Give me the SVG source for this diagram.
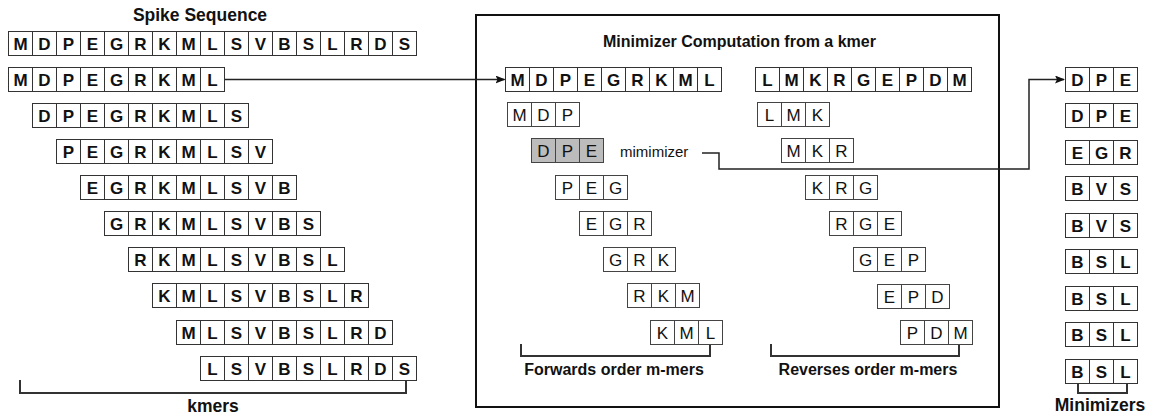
<svg xmlns="http://www.w3.org/2000/svg" width="1150" height="415" viewBox="0 0 1150 415">
<defs>
<style>
.c rect{fill:#fff;stroke:#333;stroke-width:1}
.c path{fill:none;stroke:#333;stroke-width:1}
.c text{font-family:"Liberation Sans",Arial,sans-serif;font-size:17px;font-weight:bold;text-anchor:middle;fill:#111}
.m rect{fill:#fff;stroke:#444;stroke-width:1}
.m path{fill:none;stroke:#444;stroke-width:1}
.m text{font-family:"Liberation Sans",Arial,sans-serif;font-size:17px;text-anchor:middle;fill:#111}
.hl rect{fill:#bcbcbc}
.lbl{font-family:"Liberation Sans",Arial,sans-serif;font-weight:bold;fill:#111}
.con{fill:none;stroke:#222;stroke-width:1.5}
.br{fill:none;stroke:#333;stroke-width:2}
</style>
<marker id="ah" markerWidth="10" markerHeight="8" refX="9" refY="4" orient="auto" markerUnits="userSpaceOnUse">
<path d="M0,0 L10,4 L0,8 L2,4 Z" fill="#111"/>
</marker>
</defs>
<rect width="1150" height="415" fill="#fff"/>

<text class="lbl" x="200" y="21" font-size="17.5" text-anchor="middle">Spike Sequence</text>

<g id="spike" class="c" transform="translate(8.5,31.5)"><rect width="408" height="24"/><path d="M24 0v24M48 0v24M72 0v24M96 0v24M120 0v24M144 0v24M168 0v24M192 0v24M216 0v24M240 0v24M264 0v24M288 0v24M312 0v24M336 0v24M360 0v24M384 0v24"/><text x="12 36 60 84 108 132 156 180 204 228 252 276 300 324 348 372 396" y="18">MDPEGRKMLSVBSLRDS</text></g>

<g id="kmer1" class="c" transform="translate(8.5,67.5)"><rect width="216" height="24"/><path d="M24 0v24M48 0v24M72 0v24M96 0v24M120 0v24M144 0v24M168 0v24M192 0v24"/><text x="12 36 60 84 108 132 156 180 204" y="18">MDPEGRKML</text></g>
<g id="kmer2" class="c" transform="translate(32.5,103.5)"><rect width="216" height="24"/><path d="M24 0v24M48 0v24M72 0v24M96 0v24M120 0v24M144 0v24M168 0v24M192 0v24"/><text x="12 36 60 84 108 132 156 180 204" y="18">DPEGRKMLS</text></g>
<g id="kmer3" class="c" transform="translate(56.5,139.5)"><rect width="216" height="24"/><path d="M24 0v24M48 0v24M72 0v24M96 0v24M120 0v24M144 0v24M168 0v24M192 0v24"/><text x="12 36 60 84 108 132 156 180 204" y="18">PEGRKMLSV</text></g>
<g id="kmer4" class="c" transform="translate(80.5,175.5)"><rect width="216" height="24"/><path d="M24 0v24M48 0v24M72 0v24M96 0v24M120 0v24M144 0v24M168 0v24M192 0v24"/><text x="12 36 60 84 108 132 156 180 204" y="18">EGRKMLSVB</text></g>
<g id="kmer5" class="c" transform="translate(104.5,211.5)"><rect width="216" height="24"/><path d="M24 0v24M48 0v24M72 0v24M96 0v24M120 0v24M144 0v24M168 0v24M192 0v24"/><text x="12 36 60 84 108 132 156 180 204" y="18">GRKMLSVBS</text></g>
<g id="kmer6" class="c" transform="translate(128.5,247.5)"><rect width="216" height="24"/><path d="M24 0v24M48 0v24M72 0v24M96 0v24M120 0v24M144 0v24M168 0v24M192 0v24"/><text x="12 36 60 84 108 132 156 180 204" y="18">RKMLSVBSL</text></g>
<g id="kmer7" class="c" transform="translate(152.5,283.5)"><rect width="216" height="24"/><path d="M24 0v24M48 0v24M72 0v24M96 0v24M120 0v24M144 0v24M168 0v24M192 0v24"/><text x="12 36 60 84 108 132 156 180 204" y="18">KMLSVBSLR</text></g>
<g id="kmer8" class="c" transform="translate(176.5,320.5)"><rect width="216" height="24"/><path d="M24 0v24M48 0v24M72 0v24M96 0v24M120 0v24M144 0v24M168 0v24M192 0v24"/><text x="12 36 60 84 108 132 156 180 204" y="18">MLSVBSLRD</text></g>
<g id="kmer9" class="c" transform="translate(200.5,356.5)"><rect width="216" height="24"/><path d="M24 0v24M48 0v24M72 0v24M96 0v24M120 0v24M144 0v24M168 0v24M192 0v24"/><text x="12 36 60 84 108 132 156 180 204" y="18">LSVBSLRDS</text></g>

<text class="lbl" x="213" y="412" font-size="17.5" text-anchor="middle">kmers</text>

<g id="minimizer-box">
<rect x="476" y="15" width="523" height="392" fill="none" stroke="#111" stroke-width="2"/>
<text class="lbl" x="739.5" y="47" font-size="16" text-anchor="middle">Minimizer Computation from a kmer</text>
</g>

<g id="kmer-fwd" class="c" transform="translate(505.5,67.5)"><rect width="216" height="24"/><path d="M24 0v24M48 0v24M72 0v24M96 0v24M120 0v24M144 0v24M168 0v24M192 0v24"/><text x="12 36 60 84 108 132 156 180 204" y="18">MDPEGRKML</text></g>
<g id="kmer-rev" class="c" transform="translate(755.5,67.5)"><rect width="216" height="24"/><path d="M24 0v24M48 0v24M72 0v24M96 0v24M120 0v24M144 0v24M168 0v24M192 0v24"/><text x="12 36 60 84 108 132 156 180 204" y="18">LMKRGEPDM</text></g>

<g id="fwd1" class="m" transform="translate(507.5,102.5)"><rect width="72" height="24"/><path d="M24 0v24M48 0v24"/><text x="12 36 60" y="18">MDP</text></g>
<g id="fwd2" class="m hl" transform="translate(531.5,138.5)"><rect width="72" height="24"/><path d="M24 0v24M48 0v24"/><text x="12 36 60" y="18">DPE</text></g>
<g id="fwd3" class="m" transform="translate(555.5,175.5)"><rect width="72" height="24"/><path d="M24 0v24M48 0v24"/><text x="12 36 60" y="18">PEG</text></g>
<g id="fwd4" class="m" transform="translate(579.5,211.5)"><rect width="72" height="24"/><path d="M24 0v24M48 0v24"/><text x="12 36 60" y="18">EGR</text></g>
<g id="fwd5" class="m" transform="translate(603.5,247.5)"><rect width="72" height="24"/><path d="M24 0v24M48 0v24"/><text x="12 36 60" y="18">GRK</text></g>
<g id="fwd6" class="m" transform="translate(627.5,283.5)"><rect width="72" height="24"/><path d="M24 0v24M48 0v24"/><text x="12 36 60" y="18">RKM</text></g>
<g id="fwd7" class="m" transform="translate(650.5,320.5)"><rect width="72" height="24"/><path d="M24 0v24M48 0v24"/><text x="12 36 60" y="18">KML</text></g>

<g id="rev1" class="m" transform="translate(757.5,102.5)"><rect width="72" height="24"/><path d="M24 0v24M48 0v24"/><text x="12 36 60" y="18">LMK</text></g>
<g id="rev2" class="m" transform="translate(781.5,138.5)"><rect width="72" height="24"/><path d="M24 0v24M48 0v24"/><text x="12 36 60" y="18">MKR</text></g>
<g id="rev3" class="m" transform="translate(805.5,175.5)"><rect width="72" height="24"/><path d="M24 0v24M48 0v24"/><text x="12 36 60" y="18">KRG</text></g>
<g id="rev4" class="m" transform="translate(829.5,211.5)"><rect width="72" height="24"/><path d="M24 0v24M48 0v24"/><text x="12 36 60" y="18">RGE</text></g>
<g id="rev5" class="m" transform="translate(853.5,247.5)"><rect width="72" height="24"/><path d="M24 0v24M48 0v24"/><text x="12 36 60" y="18">GEP</text></g>
<g id="rev6" class="m" transform="translate(877.5,284.5)"><rect width="72" height="24"/><path d="M24 0v24M48 0v24"/><text x="12 36 60" y="18">EPD</text></g>
<g id="rev7" class="m" transform="translate(900.5,320.5)"><rect width="72" height="24"/><path d="M24 0v24M48 0v24"/><text x="12 36 60" y="18">PDM</text></g>

<text x="620" y="157" font-family="Liberation Sans, Arial, sans-serif" font-size="15" fill="#111">mimimizer</text>

<text class="lbl" x="614" y="375" font-size="16" text-anchor="middle">Forwards order m-mers</text>
<text class="lbl" x="868" y="375" font-size="16" text-anchor="middle">Reverses order m-mers</text>

<g id="min1" class="c" transform="translate(1065.5,67.5)"><rect width="72" height="24"/><path d="M24 0v24M48 0v24"/><text x="12 36 60" y="18">DPE</text></g>
<g id="min2" class="c" transform="translate(1065.5,103.5)"><rect width="72" height="24"/><path d="M24 0v24M48 0v24"/><text x="12 36 60" y="18">DPE</text></g>
<g id="min3" class="c" transform="translate(1065.5,140.5)"><rect width="72" height="24"/><path d="M24 0v24M48 0v24"/><text x="12 36 60" y="18">EGR</text></g>
<g id="min4" class="c" transform="translate(1065.5,176.5)"><rect width="72" height="24"/><path d="M24 0v24M48 0v24"/><text x="12 36 60" y="18">BVS</text></g>
<g id="min5" class="c" transform="translate(1065.5,213.5)"><rect width="72" height="24"/><path d="M24 0v24M48 0v24"/><text x="12 36 60" y="18">BVS</text></g>
<g id="min6" class="c" transform="translate(1065.5,249.5)"><rect width="72" height="24"/><path d="M24 0v24M48 0v24"/><text x="12 36 60" y="18">BSL</text></g>
<g id="min7" class="c" transform="translate(1065.5,286.5)"><rect width="72" height="24"/><path d="M24 0v24M48 0v24"/><text x="12 36 60" y="18">BSL</text></g>
<g id="min8" class="c" transform="translate(1065.5,322.5)"><rect width="72" height="24"/><path d="M24 0v24M48 0v24"/><text x="12 36 60" y="18">BSL</text></g>
<g id="min9" class="c" transform="translate(1065.5,359.5)"><rect width="72" height="24"/><path d="M24 0v24M48 0v24"/><text x="12 36 60" y="18">BSL</text></g>

<text class="lbl" x="1100" y="411" font-size="17.5" text-anchor="middle">Minimizers</text>

<g id="connectors">
<path class="con" d="M225,79.5 H504.5" marker-end="url(#ah)"/>
<path class="con" d="M702,153 H719 V169 H1029 V79.5 H1064" marker-end="url(#ah)"/>
<path class="br" d="M20,380 V393 H406 V381"/>
<path class="br" d="M521,344 V356 H710 V345"/>
<path class="br" d="M771,344 V356 H959 V345"/>
<path class="br" d="M1078,383 V393 H1127 V384"/>
</g>
</svg>
